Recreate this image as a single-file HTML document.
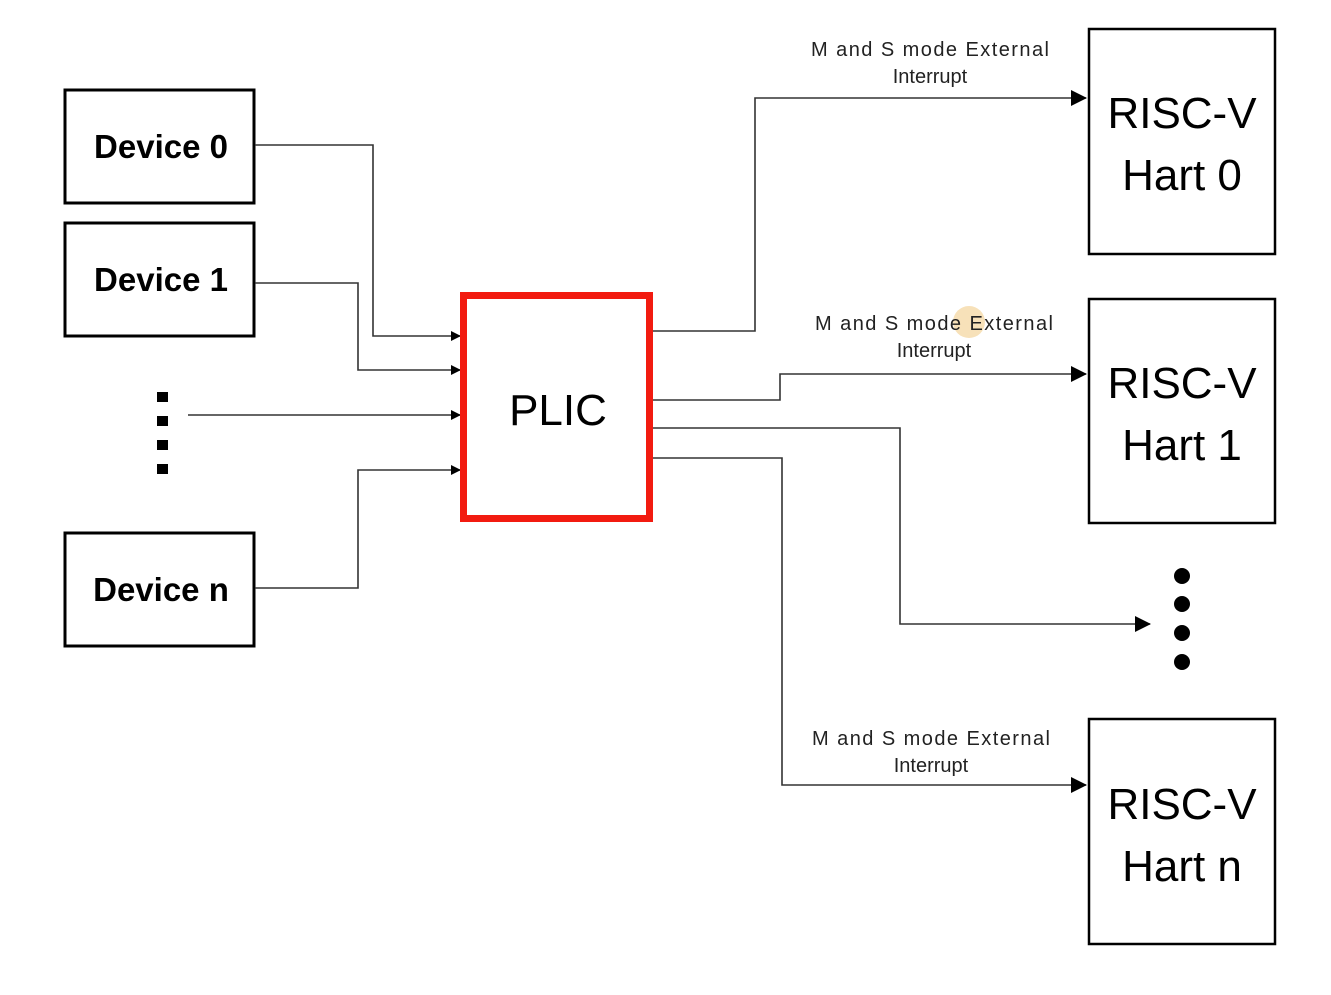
<!DOCTYPE html>
<html><head><meta charset="utf-8"><style>html,body{margin:0;padding:0;background:#fff}</style></head>
<body>
<svg width="1331" height="990" viewBox="0 0 1331 990" xmlns="http://www.w3.org/2000/svg" font-family="Liberation Sans, sans-serif">
<defs>
<marker id="a" markerWidth="10" markerHeight="10" refX="9" refY="5" orient="auto" markerUnits="userSpaceOnUse">
<path d="M0,0 L10,5 L0,10 z" fill="#000"/></marker>
<marker id="b" markerWidth="16" markerHeight="16" refX="15" refY="8" orient="auto" markerUnits="userSpaceOnUse">
<path d="M0,0 L16,8 L0,16 z" fill="#000"/></marker>
</defs>
<g fill="none" stroke="#000" stroke-width="3">
<rect x="65" y="90" width="189" height="113"/>
<rect x="65" y="223" width="189" height="113"/>
<rect x="65" y="533" width="189" height="113"/>
</g>
<g font-weight="bold" font-size="33" text-anchor="middle" fill="#000">
<text x="161" y="158">Device 0</text>
<text x="161" y="291">Device 1</text>
<text x="161" y="601">Device n</text>
</g>
<g fill="#000">
<rect x="157" y="392" width="11" height="10"/>
<rect x="157" y="416" width="11" height="10"/>
<rect x="157" y="440" width="11" height="10"/>
<rect x="157" y="464" width="11" height="10"/>
</g>
<g fill="none" stroke="#333" stroke-width="1.6">
<polyline points="255,145 373,145 373,336 460,336" marker-end="url(#a)"/>
<polyline points="255,283 358,283 358,370 460,370" marker-end="url(#a)"/>
<polyline points="188,415 460,415" marker-end="url(#a)"/>
<polyline points="255,588 358,588 358,470 460,470" marker-end="url(#a)"/>
<polyline points="653,331 755,331 755,98 1086,98" marker-end="url(#b)"/>
<polyline points="653,400 780,400 780,374 1086,374" marker-end="url(#b)"/>
<polyline points="653,428 900,428 900,624 1150,624" marker-end="url(#b)"/>
<polyline points="653,458 782,458 782,785 1086,785" marker-end="url(#b)"/>
</g>
<rect x="463.5" y="295.5" width="186" height="223" fill="none" stroke="#f21b10" stroke-width="7"/>
<text x="558" y="425" font-size="44" text-anchor="middle" fill="#000">PLIC</text>
<g fill="none" stroke="#000" stroke-width="2.5">
<rect x="1089" y="29" width="186" height="225"/>
<rect x="1089" y="299" width="186" height="224"/>
<rect x="1089" y="719" width="186" height="225"/>
</g>
<g font-size="44" text-anchor="middle" fill="#000">
<text x="1182" y="128">RISC-V</text><text x="1182" y="190">Hart 0</text>
<text x="1182" y="398">RISC-V</text><text x="1182" y="460">Hart 1</text>
<text x="1182" y="819">RISC-V</text><text x="1182" y="881">Hart n</text>
</g>
<g fill="#000">
<circle cx="1182" cy="576" r="8"/><circle cx="1182" cy="604" r="8"/>
<circle cx="1182" cy="633" r="8"/><circle cx="1182" cy="662" r="8"/>
</g>
<circle cx="969" cy="322" r="16" fill="#f5d9a8" opacity="0.8"/>
<g font-size="20" text-anchor="middle" fill="#222">
<text x="930" y="56" textLength="238">M and S mode External</text><text x="930" y="83">Interrupt</text>
<text x="934" y="330" textLength="238">M and S mode External</text><text x="934" y="357">Interrupt</text>
<text x="931" y="745" textLength="238">M and S mode External</text><text x="931" y="772">Interrupt</text>
</g>
</svg>
</body></html>
